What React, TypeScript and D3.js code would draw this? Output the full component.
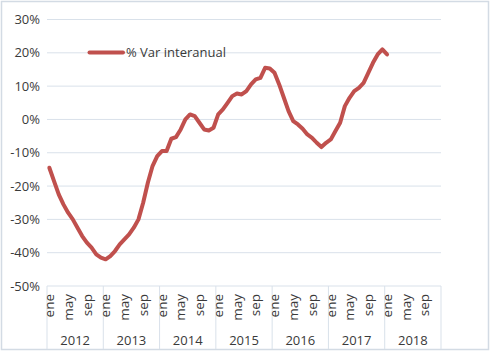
import React from "react";
import * as d3 from "d3";

const years = [2012, 2013, 2014, 2015, 2016, 2017, 2018];
const monthLabels = ["ene", "may", "sep"];
const monthLabelIdx = [0, 4, 8];
const yTicks = [-50, -40, -30, -20, -10, 0, 10, 20, 30];
const seriesName = "% Var interanual";
// monthly values Jan 2012 .. Jan 2018
const values = [
  -14.5, -18.5, -22.5, -25.5, -28, -30, -32.5, -35, -37, -38.5, -40.5, -41.5,
  -42, -41, -39.5, -37.5, -36, -34.5, -32.5, -30, -25, -19, -14, -11,
  -9.5, -9.5, -5.8, -5.3, -3, 0, 1.5, 1, -1, -3, -3.3, -2.5,
  1.5, 3, 5, 7, 7.8, 7.5, 8.5, 10.5, 12, 12.5, 15.5, 15.3,
  14, 10.5, 6.5, 2.5, -0.5, -1.5, -2.8, -4.5, -5.5, -7, -8.3, -7,
  -6, -3.5, -1, 4, 6.5, 8.5, 9.5, 11, 14, 17, 19.5, 21,
  19.5,
];

const W = 492;
const H = 356;
const left = 47;
const right = 441;
const top = 19.5;
const bottom = 286;
const font = "'Open Sans', 'Liberation Sans', sans-serif";
const textColor = "#3a3a3a";
const gridColor = "#d9e1ea";
const lineColor = "#c0504d";

export default function App() {
  const nMonths = years.length * 12;
  const idx = d3.range(nMonths);
  const x = d3.scaleBand<number>().domain(idx).range([left, right]).padding(0);
  const y = d3.scaleLinear().domain([-50, 30]).range([bottom, top]);
  const line = d3
    .line<number>()
    .x((_, i) => (x(i) as number) + x.bandwidth() / 2)
    .y((d) => y(d));
  const yearW = x.bandwidth() * 12;

  return (
    <svg
      width={W}
      height={H}
      style={{ position: "absolute", left: 0, top: 0, background: "#fff" }}
      fontFamily={font}
    >
      <rect x={1.5} y={1.5} width={487} height={348} fill="#fff" stroke="#d3dbe4" strokeWidth={1.5} />
      {yTicks.map((t) => (
        <g key={t}>
          <line x1={left} x2={right} y1={y(t)} y2={y(t)} stroke={gridColor} strokeWidth={1} />
          <text x={40} y={y(t)} dy="0.35em" textAnchor="end" fontSize={13} fill={textColor}>
            {t}%
          </text>
        </g>
      ))}
      {d3.range(years.length + 1).map((k) => {
        const xx = left + k * yearW;
        return <line key={k} x1={xx} x2={xx} y1={bottom} y2={349} stroke={gridColor} strokeWidth={1} />;
      })}
      {years.map((yr, k) => (
        <g key={yr}>
          {monthLabelIdx.map((m, j) => {
            const cx = (x(k * 12 + m) as number) + x.bandwidth() / 2;
            return (
              <text
                key={m}
                transform={`translate(${cx},294) rotate(-90)`}
                textAnchor="end"
                dy="0.35em"
                fontSize={13.5}
                fill={textColor}
              >
                {monthLabels[j]}
              </text>
            );
          })}
          <text x={left + k * yearW + yearW / 2} y={345} textAnchor="middle" fontSize={13} fill={textColor}>
            {yr}
          </text>
        </g>
      ))}
      <path d={line(values) || ""} fill="none" stroke={lineColor} strokeWidth={4} strokeLinejoin="round" strokeLinecap="round" />
      <line x1={89.5} x2={123} y1={52.5} y2={52.5} stroke={lineColor} strokeWidth={4} strokeLinecap="round" />
      <text x={126} y={52.5} dy="0.35em" fontSize={13} fill={textColor}>
        {seriesName}
      </text>
    </svg>
  );
}
